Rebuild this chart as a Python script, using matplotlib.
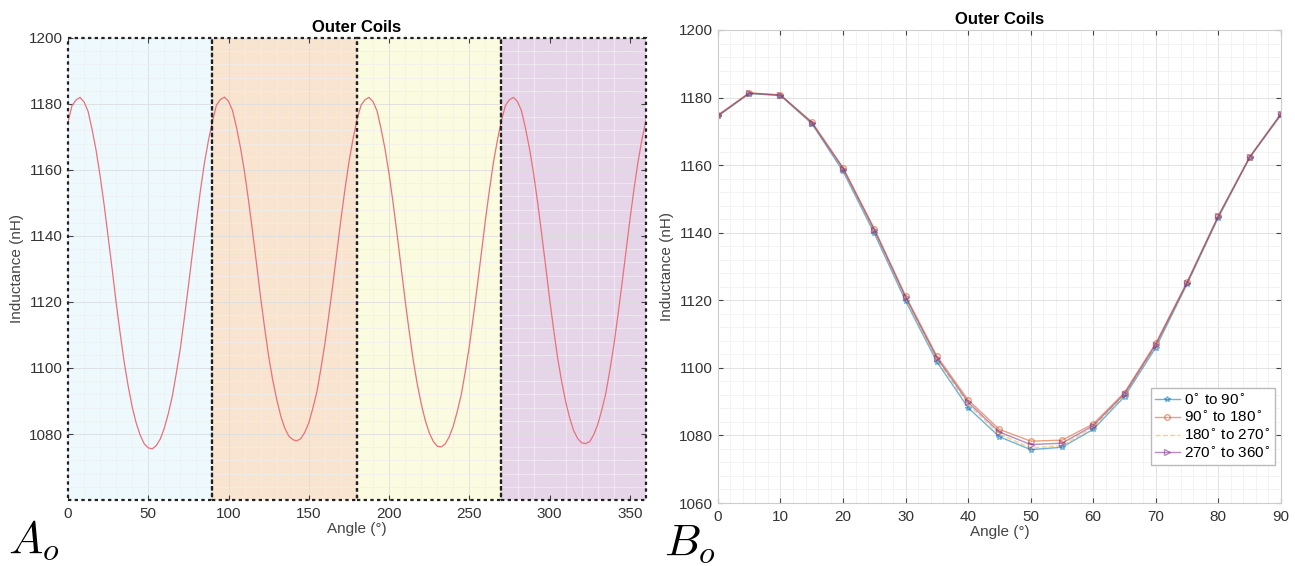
import matplotlib.pyplot as plt
from matplotlib.patches import Rectangle
from matplotlib.ticker import MultipleLocator

# angle within each 90 degree quadrant (5 degree steps, right panel)
angles = [0, 5, 10, 15, 20, 25, 30, 35, 40, 45, 50, 55, 60, 65, 70, 75, 80, 85, 90]

# inductance (nH) per quadrant
q1 = [1174.5, 1181.2, 1180.6, 1172.3, 1158.2, 1139.8, 1119.8, 1101.8, 1088.2, 1079.6,
      1075.8, 1076.5, 1081.8, 1091.5, 1106.0, 1124.8, 1144.5, 1162.2, 1174.8]
q2 = [1174.8, 1181.4, 1180.8, 1172.8, 1159.3, 1141.2, 1121.3, 1103.5, 1090.5, 1081.8,
      1078.3, 1078.6, 1083.4, 1092.7, 1107.3, 1125.4, 1145.0, 1162.4, 1175.2]
q3 = [1174.6, 1181.3, 1180.7, 1172.5, 1158.8, 1140.5, 1120.5, 1102.5, 1089.2, 1080.4,
      1076.3, 1077.0, 1082.4, 1092.0, 1106.6, 1125.0, 1144.8, 1162.3, 1175.0]
q4 = [1174.7, 1181.3, 1180.7, 1172.6, 1159.0, 1140.8, 1120.9, 1103.0, 1089.8, 1081.0,
      1077.3, 1077.7, 1082.9, 1092.3, 1106.9, 1125.2, 1144.9, 1162.3, 1175.1]

# extra readings of the finer left-panel curve, at 2.5, 7.5, ... 87.5 in each quadrant
mid_angles = [2.5, 7.5, 12.5, 17.5, 22.5, 27.5, 32.5, 37.5, 42.5, 47.5,
              52.5, 57.5, 62.5, 67.5, 72.5, 77.5, 82.5, 87.5]
m1 = [1179.5, 1182.0, 1177.8, 1166.0, 1149.5, 1130.0, 1110.5, 1094.5, 1083.3, 1077.0,
      1075.5, 1078.5, 1086.2, 1098.5, 1115.2, 1134.8, 1153.8, 1169.0]
m2 = [1179.7, 1182.1, 1178.0, 1166.6, 1150.6, 1131.4, 1112.1, 1096.4, 1085.5, 1079.4,
      1077.9, 1080.5, 1087.8, 1099.7, 1116.1, 1135.3, 1154.1, 1169.3]
m3 = [1179.6, 1182.0, 1177.9, 1166.3, 1150.0, 1130.6, 1111.2, 1095.3, 1084.2, 1077.8,
      1076.1, 1079.2, 1086.9, 1099.0, 1115.6, 1135.0, 1153.9, 1169.1]
m4 = [1179.6, 1182.0, 1177.9, 1166.4, 1150.3, 1131.0, 1111.7, 1095.9, 1084.9, 1078.6,
      1077.1, 1079.8, 1087.3, 1099.3, 1115.8, 1135.1, 1154.0, 1169.2]

series = [q1, q2, q3, q4]
mids = [m1, m2, m3, m4]
labels = [r"0$^{\circ}$ to 90$^{\circ}$", r"90$^{\circ}$ to 180$^{\circ}$",
          r"180$^{\circ}$ to 270$^{\circ}$", r"270$^{\circ}$ to 360$^{\circ}$"]
offsets = [0, 90, 180, 270]
band_colors = ["#eef9fe", "#f9e4d0", "#fbfbe0", "#e6d5e8"]
line_colors = ["#0072bd", "#d95319", "#edb120", "#7e2f8e"]
markers = ["*", "o", "", ">"]
styles = ["-", "-", "--", "-"]

plt.rcParams["font.family"] = ["Liberation Sans", "DejaVu Sans"]
plt.rcParams["mathtext.fontset"] = "dejavusans"

fig = plt.figure(figsize=(12.95, 5.66), dpi=100)
ax1 = fig.add_axes([0.0525, 0.1166, 0.4463, 0.8163])
ax2 = fig.add_axes([0.5544, 0.1113, 0.4347, 0.8357])


def style_axes(ax):
    ax.minorticks_on()
    ax.grid(True, which="major", color="#dddddd", linewidth=0.6)
    ax.grid(True, which="minor", color="#efefef", linewidth=0.5)
    ax.tick_params(which="both", direction="in", labelsize=11, colors="#444444",
                   labelcolor="#333333", right=True, top=True)
    ax.tick_params(which="minor", length=0)
    ax.tick_params(axis="x", pad=5)
    ax.set_axisbelow(True)
    ax.set_xlabel("Angle (°)", fontsize=11, color="#444444", labelpad=1)
    ax.set_ylabel("Inductance (nH)", fontsize=11, color="#444444")
    ax.set_title("Outer Coils", fontsize=12, fontweight="bold", pad=4)


# left panel: all quadrants joined over 0-360
pts = []
for off, vals, mvals in zip(offsets, series, mids):
    for a, v in zip(angles, vals):
        if off > 0 and a == 0:
            continue
        pts.append((off + a, v))
    for a, v in zip(mid_angles, mvals):
        pts.append((off + a, v))
pts.sort()
full_x = [p[0] for p in pts]
full_y = [p[1] for p in pts]

for off, c in zip(offsets, band_colors):
    ax1.add_patch(Rectangle((off, 1060), 90, 140, facecolor=c, edgecolor="none", zorder=0))
    ax1.add_patch(Rectangle((off, 1060), 90, 140, facecolor="none", edgecolor="#222222",
                            linestyle=(0, (1.5, 1.5)), linewidth=1.6, zorder=3, clip_on=False))
style_axes(ax1)
ax1.plot(full_x, full_y, color="#e8717a", linewidth=0.9, zorder=2)
ax1.set_xlim(0, 360)
ax1.set_ylim(1060, 1200)
ax1.set_xticks([0, 50, 100, 150, 200, 250, 300, 350])
ax1.set_yticks([1080, 1100, 1120, 1140, 1160, 1180, 1200])
ax1.xaxis.set_minor_locator(MultipleLocator(10))
ax1.yaxis.set_minor_locator(MultipleLocator(4))
for s in ax1.spines.values():
    s.set_visible(False)

# right panel: quadrants overlaid
style_axes(ax2)
for vals, lab, c, m, ls in zip(series, labels, line_colors, markers, styles):
    ax2.plot(angles, vals, color=c, alpha=0.55, linewidth=1.0, marker=m, markersize=4,
             markerfacecolor="none", linestyle=ls, label=lab)
ax2.set_xlim(0, 90)
ax2.set_ylim(1060, 1200)
ax2.set_xticks(range(0, 91, 10))
ax2.set_yticks(range(1060, 1201, 20))
ax2.xaxis.set_minor_locator(MultipleLocator(2))
ax2.yaxis.set_minor_locator(MultipleLocator(4))
for s in ax2.spines.values():
    s.set_color("#cccccc")
leg = ax2.legend(loc="lower right", bbox_to_anchor=(0.99, 0.08), fontsize=11,
                 fancybox=False, framealpha=1, edgecolor="#bbbbbb",
                 handlelength=1.6, borderpad=0.3, labelspacing=0.15, handletextpad=0.3,
                 borderaxespad=0)

fig.text(0.006, 0.022, r"$A_o$", fontsize=33, math_fontfamily="cm")
fig.text(0.513, 0.018, r"$B_o$", fontsize=33, math_fontfamily="cm")

fig.savefig("out.png", dpi=100)
plt.close(fig)
